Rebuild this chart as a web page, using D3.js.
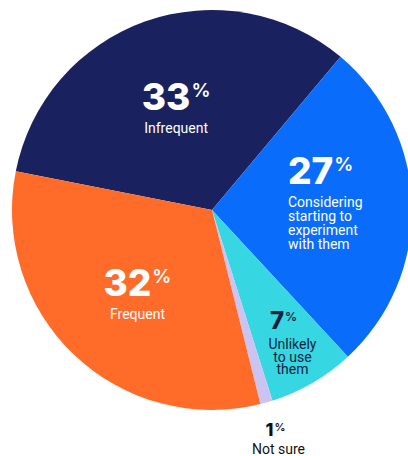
<!DOCTYPE html>
<meta charset="utf-8">
<style>
    body { margin: 0; background: #fff; }
    .num { font-family: Inter, "Open Sans", sans-serif; font-weight: 800; }
    .lab { font-family: Roboto, "Liberation Sans", sans-serif; font-weight: 400; }
</style>
<body>
    <script src="https://cdn.jsdelivr.net/npm/d3@7"></script>
    <script>
        // slices in clockwise order, starting with the navy one
        var categories = ['Infrequent', 'Considering starting to experiment with them',
                          'Unlikely to use them', 'Not sure', 'Frequent'],
            shares = [33, 27, 7, 1, 32],
            labelLines = [['Infrequent'],
                          ['Considering', 'starting to', 'experiment', 'with them'],
                          ['Unlikely', 'to use', 'them'],
                          ['Not sure'],
                          ['Frequent']],
            colors = ['#19215f', '#0a6cfb', '#36d6e2', '#cbc3f1', '#ff6c29'];

        var width = 408,
            height = 456,
            cx = 212,
            cy = 210,
            radius = 200,
            start = -78.8 * Math.PI / 180;

        // label layout per slice: distance from centre, tweaks, type sizes
        var big = {num: 37, pct: 19, lab: 14, gap: 23, lh: 14, cap: 27, pcap: 14},
            mid = {num: 24, pct: 12, lab: 14, gap: 20, lh: 12.5, cap: 17, pcap: 9},
            sml = {num: 18, pct: 11, lab: 14, gap: 18, lh: 14, cap: 13, pcap: 8},
            labelR = [108, 108, 152, 237, 111],
            labelShift = [[0, 0], [-32, -4], [4, 2], [2, 0], [2, 4]],
            numShift = [0, 0, -9, -3, 0],
            labelSize = [big, big, mid, sml, big],
            labelAnchor = ['middle', 'start', 'middle', 'middle', 'middle'],
            labelColor = ['#fff', '#fff', '#15213f', '#111', '#fff'];

        var svg = d3.select('body').append('svg')
            .attr('width', width)
            .attr('height', height);

        var g = svg.append('g')
            .attr('transform', 'translate(' + cx + ',' + cy + ')');

        var pie = d3.pie()
            .sort(null)
            .value(function(d) { return d; })
            .startAngle(start)
            .endAngle(start + 2 * Math.PI);

        var arcs = pie(shares);

        var arc = d3.arc()
            .innerRadius(0)
            .outerRadius(radius);

        g.selectAll('path.slice')
            .data(arcs).enter()
            .append('path')
            .attr('class', 'slice')
            .attr('d', arc)
            .attr('fill', function(d, i) { return colors[i]; });

        var labels = g.selectAll('g.label')
            .data(arcs).enter()
            .append('g')
            .attr('class', 'label')
            .attr('transform', function(d, i) {
                var c = d3.arc().innerRadius(labelR[i]).outerRadius(labelR[i]).centroid(d);
                return 'translate(' + (c[0] + labelShift[i][0]) + ',' + (c[1] + labelShift[i][1]) + ')';
            });

        labels.each(function(d, i) {
            var s = labelSize[i],
                lines = labelLines[i],
                el = d3.select(this),
                y0 = (s.cap - s.gap - (lines.length - 1) * s.lh) / 2;

            var t = el.append('text')
                .attr('class', 'num')
                .attr('x', numShift[i])
                .attr('y', y0)
                .attr('text-anchor', labelAnchor[i])
                .attr('fill', labelColor[i]);
            t.append('tspan')
                .attr('font-size', s.num)
                .text(d.data);
            t.append('tspan')
                .attr('font-size', s.pct)
                .attr('font-weight', 600)
                .attr('dx', 1)
                .attr('dy', -(s.cap - s.pcap))
                .text('%');

            // category name, one text with a tspan per line
            el.append('text')
                .attr('class', 'lab')
                .attr('text-anchor', labelAnchor[i])
                .attr('font-size', s.lab)
                .attr('fill', labelColor[i])
                .selectAll('tspan')
                .data(lines).enter()
                .append('tspan')
                .attr('x', 0)
                .attr('y', function(l, j) { return y0 + s.gap + j * s.lh; })
                .text(function(l) { return l; });
        });
    </script>
</body>
